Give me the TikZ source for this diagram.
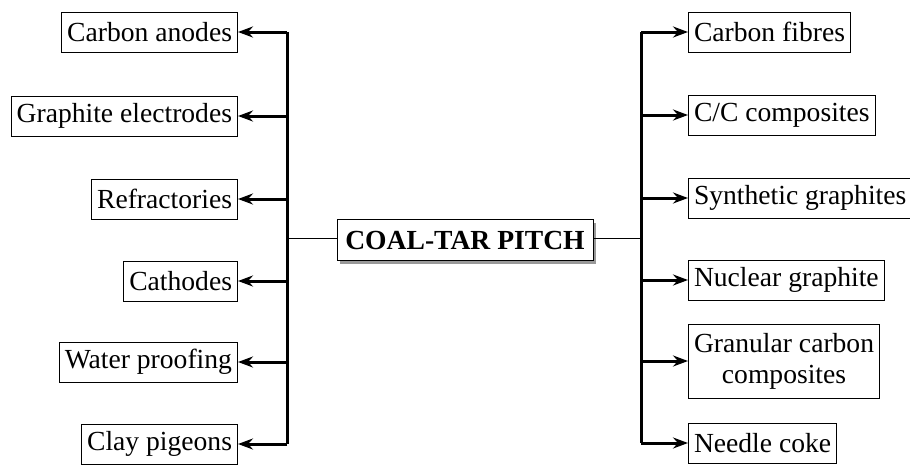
\documentclass[tikz,border=0pt]{standalone}
\usepackage{fontspec}
\setmainfont{Liberation Serif}
\usetikzlibrary{arrows.meta,shadows}
\begin{document}
\begin{tikzpicture}[x=1pt,y=-1pt,
  box/.style={draw,line width=1pt,font=\fontsize{27.6}{31}\selectfont,inner xsep=5.5pt,inner ysep=6pt,minimum height=40pt,align=center},
  centerbox/.style={draw,line width=1pt,fill=white,font=\fontsize{27.6}{31}\selectfont\bfseries,inner xsep=7pt,minimum height=41pt,minimum width=256pt,
    drop shadow={shadow xshift=3pt,shadow yshift=-3pt,fill=gray!80,opacity=1}},
  arr/.style={line width=3pt,-{Stealth[length=15pt,width=11pt,inset=5pt]}},
  trunk/.style={line width=3pt},
  link/.style={line width=1pt}]
\useasboundingbox (0,0) rectangle (910,464);
% left boxes
\node[box,anchor=east] (l1) at (238,32) {Carbon anodes};
\node[box,anchor=east] (l2) at (238,116) {Graphite electrodes};
\node[box,anchor=east] (l3) at (238,199) {Refractories};
\node[box,anchor=east] (l4) at (238,281) {Cathodes};
\node[box,anchor=east] (l5) at (238,362) {Water proofing};
\node[box,anchor=east] (l6) at (238,444) {Clay pigeons};
% right boxes
\node[box,anchor=west] (r1) at (688,32) {Carbon fibres};
\node[box,anchor=west] (r2) at (688,115) {C/C composites};
\node[box,anchor=west] (r3) at (688,198) {Synthetic graphites};
\node[box,anchor=west] (r4) at (688,280) {Nuclear graphite};
\node[box,anchor=west,minimum height=74pt] (r5) at (688,361) {Granular carbon\\composites};
\node[box,anchor=west] (r6) at (688,443) {Needle coke};
% center
\node[centerbox] (c) at (465,240) {COAL-TAR PITCH};
% trunk coordinates
\coordinate (lt) at (287,32);
\coordinate (lb) at (287,444);
\coordinate (lm) at (287,238);
\coordinate (rt) at (641,32);
\coordinate (rb) at (641,443);
\coordinate (rm) at (641,238);
\draw[trunk] (lt) -- (lb);
\draw[trunk] (rt) -- (rb);
\draw[link] (c.west |- lm) -- (lm);
\draw[link] (c.east |- rm) -- (rm);
\foreach \i in {1,...,6}{
  \draw[arr] (l\i.east -| lt) -- (l\i.east);
  \draw[arr] (r\i.west -| rt) -- (r\i.west);
}
\end{tikzpicture}
\end{document}
